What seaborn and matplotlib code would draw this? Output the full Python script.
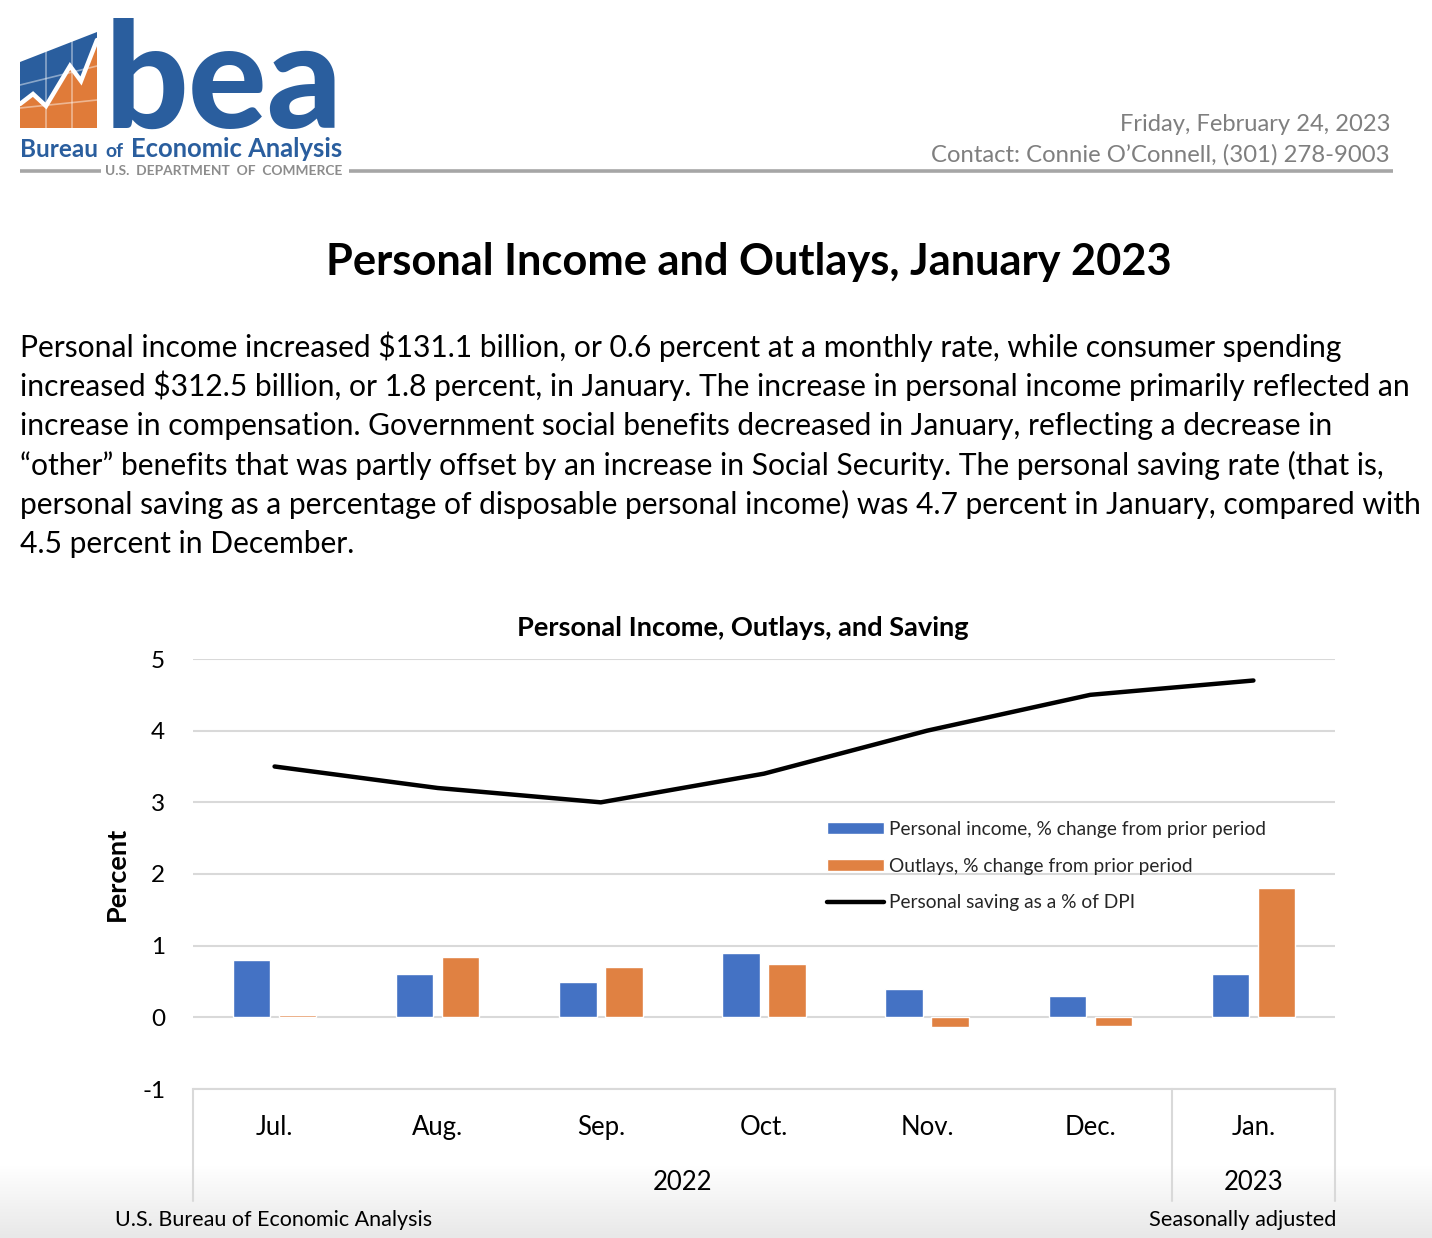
import numpy as np
import pandas as pd
import matplotlib
matplotlib.use("Agg")
import matplotlib.pyplot as plt
import matplotlib.transforms as mtransforms
from matplotlib.patches import Polygon
import seaborn as sns

# ---------------- data ----------------
months = ["Jul.", "Aug.", "Sep.", "Oct.", "Nov.", "Dec.", "Jan."]
month_years = ["2022", "2022", "2022", "2022", "2022", "2022", "2023"]
income = [0.8, 0.6, 0.5, 0.9, 0.4, 0.3, 0.6]
outlays = [0.03, 0.84, 0.70, 0.75, -0.14, -0.12, 1.8]
saving = [3.5, 3.2, 3.0, 3.4, 4.0, 4.5, 4.7]
series_names = ["Personal income, % change from prior period",
                "Outlays, % change from prior period",
                "Personal saving as a % of DPI"]
yticks = [-1, 0, 1, 2, 3, 4, 5]

body_lines = [
    "Personal income increased $131.1 billion, or 0.6 percent at a monthly rate, while consumer spending",
    "increased $312.5 billion, or 1.8 percent, in January. The increase in personal income primarily reflected an",
    "increase in compensation. Government social benefits decreased in January, reflecting a decrease in",
    "\u201cother\u201d benefits that was partly offset by an increase in Social Security. The personal saving rate (that is,",
    "personal saving as a percentage of disposable personal income) was 4.7 percent in January, compared with",
    "4.5 percent in December.",
]

BLUE = "#4472C4"
ORANGE = "#E08142"
LOGO_BLUE = "#2A5E9E"
LOGO_ORANGE = "#E07B39"
GRID = "#d9d9d9"

sns.set_theme(style="white")
plt.rcParams["font.family"] = ["Lato", "DejaVu Sans"]

W, H = 1432, 1238
fig = plt.figure(figsize=(W / 100, H / 100), dpi=100)
fig.patch.set_facecolor("white")
renderer = fig.canvas.get_renderer()


def fit(t, target):
    w = t.get_window_extent(renderer=renderer).width
    t.set_fontsize(t.get_fontsize() * target / w)
    return t


# ---------------- page (header, text) ----------------
page = fig.add_axes([0, 0, 1, 1], zorder=-1)
grad = np.linspace(1.0, 0.91, 60)[:, None, None] * np.ones((1, 1, 3))
page.imshow(grad, extent=[0, W, H, 1165], aspect="auto", origin="upper")
page.set_xlim(0, W)
page.set_ylim(H, 0)
page.axis("off")

# logo graphic
page.add_patch(Polygon([(20, 62), (97, 32), (97, 128), (20, 128)], closed=True,
                       facecolor=LOGO_BLUE, edgecolor="none"))
zig = [(20, 104), (33, 94), (46, 106), (70, 66), (81, 81), (97, 40)]
page.add_patch(Polygon(zig + [(97, 128), (20, 128)], closed=True,
                       facecolor=LOGO_ORANGE, edgecolor="none"))
for xv in (46, 72):
    page.plot([xv, xv], [30, 128], color="white", alpha=0.45, lw=1.2)
page.plot([20, 97], [85, 66], color="white", alpha=0.45, lw=1.2)
page.plot([20, 97], [108, 100], color="white", alpha=0.45, lw=1.2)
page.plot([p[0] for p in zig], [p[1] for p in zig], color="white", lw=3.2,
          solid_joinstyle="miter")
page.add_patch(Polygon([(18, 62), (99, 30), (99, 20), (18, 20)], closed=True,
                       facecolor="white", edgecolor="none"))

t = page.text(105, 128, "bea", fontsize=100, fontweight="black", color=LOGO_BLUE,
              ha="left", va="baseline")
fit(t, 238)
t = page.text(20, 157, "Bureau", fontsize=16, fontweight="bold", color=LOGO_BLUE,
              ha="left", va="baseline")
fit(t, 78)
t = page.text(105, 157, "of", fontsize=12, fontweight="bold", color=LOGO_BLUE,
              ha="left", va="baseline")
fit(t, 18)
t = page.text(131, 157, "Economic Analysis", fontsize=16, fontweight="bold",
              color=LOGO_BLUE, ha="left", va="baseline")
fit(t, 212)
t = page.text(224, 171, "U.S.  DEPARTMENT  OF  COMMERCE", fontsize=9,
              fontweight="bold", color="#8c8c8c", ha="center", va="center")
fit(t, 236)
page.plot([20, 101], [171, 171], color="#a6a6a6", lw=2.6, solid_capstyle="butt")
page.plot([349, 1393], [171, 171], color="#a6a6a6", lw=2.6, solid_capstyle="butt")

t = page.text(1390, 131, "Friday, February 24, 2023", fontsize=16, color="#7f7f7f",
              ha="right", va="baseline")
fit(t, 272)
t = page.text(1390, 162, "Contact: Connie O\u2019Connell, (301) 278-9003", fontsize=16,
              color="#7f7f7f", ha="right", va="baseline")
fit(t, 458)

t = page.text(749, 275, "Personal Income and Outlays, January 2023", fontsize=30,
              fontweight="bold", color="black", ha="center", va="baseline")
fit(t, 845)

probe = page.text(20, 0, body_lines[4], fontsize=20, ha="left", va="baseline",
                  parse_math=False)
fit(probe, 1402)
body_fs = probe.get_fontsize()
probe.remove()
for i, line in enumerate(body_lines):
    page.text(20, 357 + i * 39.2, line, fontsize=body_fs, color="black",
              ha="left", va="baseline", parse_math=False)

t = page.text(743, 636, "Personal Income, Outlays, and Saving", fontsize=18,
              fontweight="bold", color="black", ha="center", va="baseline")
fit(t, 455)

t = page.text(115, 1226, "U.S. Bureau of Economic Analysis", fontsize=15,
              color="black", ha="left", va="baseline")
fit(t, 316)
t = page.text(1336, 1226, "Seasonally adjusted", fontsize=15, color="black",
              ha="right", va="baseline")
fit(t, 188)

# ---------------- chart ----------------
ax = fig.add_axes([193 / W, 1 - 1089 / H, 1142 / W, 430 / H])
ax.set_facecolor("none")

df_bars = pd.DataFrame({
    "month": months * 2,
    "value": income + outlays,
    "series": [series_names[0]] * len(months) + [series_names[1]] * len(months),
})
sns.barplot(data=df_bars, x="month", y="value", hue="series", order=months,
            hue_order=series_names[:2], palette=[BLUE, ORANGE], saturation=1,
            width=0.564, gap=0.185, ax=ax, zorder=3, errorbar=None)
sns.lineplot(x=np.arange(len(months)), y=saving, color="black", linewidth=3.2,
             ax=ax, label=series_names[2], zorder=4, solid_capstyle="round")

ax.set_xlim(-0.5, len(months) - 0.5)
ax.set_ylim(yticks[0], yticks[-1])
ax.set_yticks(yticks)
ax.set_yticklabels([str(v) for v in yticks])
ax.set_xticks(range(len(months)))
ax.set_xticklabels(months)
ax.tick_params(axis="y", length=0, pad=20, labelsize=17.5, labelcolor="black")
ax.tick_params(axis="x", length=0, pad=19, labelsize=18.5, labelcolor="black")
ax.set_xlabel("")
ax.set_ylabel("Percent", fontsize=19.5, fontweight="bold", color="black", va="center")
ax.yaxis.set_label_coords((117 - 193) / 1142, 0.5)

ax.grid(axis="y", color=GRID, linewidth=1.5, zorder=0)
ax.set_axisbelow(True)
for side in ("top", "left", "right"):
    ax.spines[side].set_visible(False)
ax.spines["bottom"].set_color(GRID)
ax.spines["bottom"].set_linewidth(1.5)

# multi-level category axis
trans = mtransforms.blended_transform_factory(ax.transData, ax.transAxes)
uniq_years = list(dict.fromkeys(month_years))
bounds = [-0.5]
for yr in uniq_years:
    idx = [i for i, m in enumerate(month_years) if m == yr]
    ax.text(np.mean(idx), -(1183 - 1089) / 430, yr, transform=trans, fontsize=18.5,
            ha="center", va="center", color="black")
    bounds.append(max(idx) + 0.5)
for b in bounds:
    ax.plot([b, b], [0, -(1201 - 1089) / 430], transform=trans, color=GRID,
            lw=1.5, clip_on=False, zorder=1)

handles, labels = ax.get_legend_handles_labels()
ax.legend(handles, labels, loc="upper left",
          bbox_to_anchor=((827 - 193) / 1142, (1089 - 821) / 430),
          frameon=False, fontsize=13.8, handlelength=2.95, handleheight=0.62,
          handletextpad=0.3, labelspacing=1.02, borderpad=0, borderaxespad=0)

fig.savefig("out.png", dpi=100)
